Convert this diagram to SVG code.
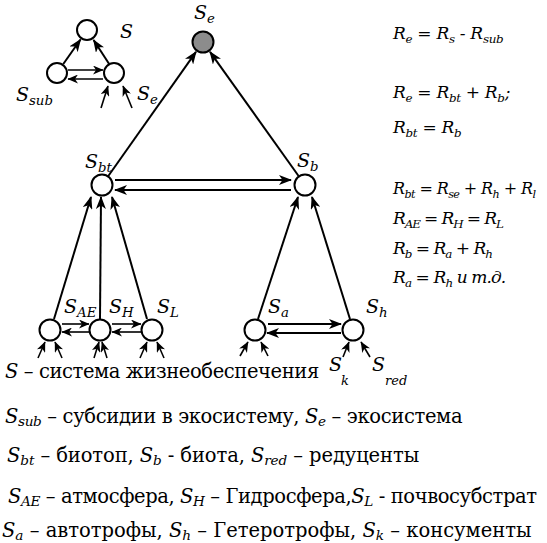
<svg xmlns="http://www.w3.org/2000/svg" width="547" height="543" viewBox="0 0 547 543" font-family="'DejaVu Serif', 'Liberation Serif', serif">
<style>
.n{fill:#fff;stroke:#000;stroke-width:2}
.g{fill:#8c8c8c;stroke:#000;stroke-width:2}
.c line{stroke:#000;stroke-width:2;marker-end:url(#ah)}
.c line.s{stroke-width:1.6;marker-end:url(#as)}
text,tspan{font-family:'DejaVu Serif','Liberation Serif',serif}
text{fill:#000}
.l{font-size:19px;font-style:italic}
.e{font-size:17px;font-style:italic;letter-spacing:-0.3px}
.b{font-size:19.5px}
.i{font-style:italic}
.sub{font-size:70%}
</style>
<defs>
<marker id="ah" markerUnits="userSpaceOnUse" markerWidth="14" markerHeight="10" refX="12" refY="5" orient="auto" viewBox="0 0 14 10">
<path d="M0,0 L13,5 L0,10 L3.5,5 z" fill="#000"/>
</marker>
<marker id="as" markerUnits="userSpaceOnUse" markerWidth="11" markerHeight="9" refX="10" refY="4.5" orient="auto" viewBox="0 0 11 9">
<path d="M0,0 L10.5,4.5 L0,9 L3,4.5 z" fill="#000"/>
</marker>
</defs>
<g id="connectors" class="c">
<line x1="63.3" y1="64" x2="80.5" y2="39.5"/>
<line x1="109" y1="63.8" x2="93.6" y2="40"/>
<line class="s" x1="68" y1="70" x2="103" y2="70"/>
<line class="s" x1="103" y1="79" x2="68" y2="79"/>
<line class="s" x1="101" y1="108" x2="108" y2="86"/>
<line class="s" x1="132" y1="108" x2="123" y2="86"/>
<line x1="108.3" y1="176" x2="196" y2="51.8"/>
<line x1="298.6" y1="176" x2="210" y2="51.8"/>
<line x1="115" y1="180" x2="291" y2="180"/>
<line x1="291" y1="190" x2="115" y2="190"/>
<line x1="54" y1="319" x2="91" y2="197"/>
<line x1="100" y1="319" x2="101" y2="197"/>
<line x1="147" y1="319" x2="112" y2="197"/>
<line x1="258" y1="319" x2="298" y2="197"/>
<line x1="350" y1="319" x2="312" y2="197"/>
<line class="s" x1="62" y1="324" x2="89" y2="324"/>
<line class="s" x1="89" y1="332" x2="62" y2="332"/>
<line class="s" x1="112" y1="324" x2="141" y2="324"/>
<line class="s" x1="141" y1="332" x2="112" y2="332"/>
<line x1="268" y1="324" x2="341" y2="324"/>
<line x1="341" y1="333" x2="267" y2="333"/>
<line class="s" x1="38" y1="358" x2="45" y2="342"/>
<line class="s" x1="62" y1="358" x2="55" y2="342"/>
<line class="s" x1="94" y1="358" x2="99" y2="342"/>
<line class="s" x1="107" y1="358" x2="102" y2="342"/>
<line class="s" x1="140" y1="358" x2="147" y2="342"/>
<line class="s" x1="164" y1="358" x2="157" y2="342"/>
<line class="s" x1="240" y1="356" x2="248" y2="342"/>
<line class="s" x1="268" y1="356" x2="261" y2="342"/>
<line class="s" x1="343" y1="357" x2="349" y2="342"/>
<line class="s" x1="370" y1="357" x2="361" y2="342"/>
</g>
<g id="node-S"><circle class="n" cx="87" cy="30" r="10"/><text class="l" x="120" y="38">S</text></g>
<g id="node-Ssub"><circle class="n" cx="57" cy="73" r="10"/><text class="l" x="16" y="101">S<tspan class="sub" dy="4">sub</tspan></text></g>
<g id="node-Se-small"><circle class="n" cx="114" cy="73" r="10"/><text class="l" x="137" y="100">S<tspan class="sub" dy="4">e</tspan></text></g>
<g id="node-Se"><circle class="g" cx="203" cy="42" r="10.5"/><text class="l" x="194" y="19">S<tspan class="sub" dy="4">e</tspan></text></g>
<g id="node-Sbt"><circle class="n" cx="102" cy="185" r="10.5"/><text class="l" x="85" y="168">S<tspan class="sub" dy="4">bt</tspan></text></g>
<g id="node-Sb"><circle class="n" cx="305" cy="185" r="10.5"/><text class="l" x="297" y="167">S<tspan class="sub" dy="4">b</tspan></text></g>
<g id="node-SAE"><circle class="n" cx="50" cy="330" r="10.5"/><text class="l" x="64" y="313">S<tspan class="sub" dy="4">AE</tspan></text></g>
<g id="node-SH"><circle class="n" cx="100" cy="330" r="10.5"/><text class="l" x="109" y="313">S<tspan class="sub" dy="4">H</tspan></text></g>
<g id="node-SL"><circle class="n" cx="152" cy="330" r="10.5"/><text class="l" x="157" y="313">S<tspan class="sub" dy="4">L</tspan></text></g>
<g id="node-Sa"><circle class="n" cx="255" cy="330" r="10.5"/><text class="l" x="268" y="313">S<tspan class="sub" dy="4">a</tspan></text></g>
<g id="node-Sh"><circle class="n" cx="353" cy="330" r="10.5"/><text class="l" x="366" y="313">S<tspan class="sub" dy="4">h</tspan></text></g>
<g id="label-Sk"><text class="l" x="329" y="371">S</text><text class="l" x="341" y="385" style="font-size:13px">k</text></g>
<g id="label-Sred"><text class="l" x="372" y="371">S</text><text class="l" x="385" y="385" style="font-size:13px">red</text></g>
<g id="equations">
<text class="e" x="393" y="39">R<tspan class="sub" dy="4">e</tspan><tspan dy="-4"> = R</tspan><tspan class="sub" dy="4">s</tspan><tspan dy="-4"> - R</tspan><tspan class="sub" dy="4">sub</tspan></text>
<text class="e" x="393" y="98">R<tspan class="sub" dy="4">e</tspan><tspan dy="-4"> = R</tspan><tspan class="sub" dy="4">bt</tspan><tspan dy="-4"> + R</tspan><tspan class="sub" dy="4">b</tspan><tspan dy="-4">;</tspan></text>
<text class="e" x="393" y="133">R<tspan class="sub" dy="4">bt</tspan><tspan dy="-4"> = R</tspan><tspan class="sub" dy="4">b</tspan></text>
<text class="e" x="393" y="194" style="font-size:16px;letter-spacing:-0.6px">R<tspan class="sub" dy="4">bt</tspan><tspan dy="-4"> = R</tspan><tspan class="sub" dy="4">se</tspan><tspan dy="-4"> + R</tspan><tspan class="sub" dy="4">h</tspan><tspan dy="-4"> + R</tspan><tspan class="sub" dy="4">l</tspan></text>
<text class="e" x="393" y="224" style="letter-spacing:-1.1px">R<tspan class="sub" dy="4">AE</tspan><tspan dy="-4"> = R</tspan><tspan class="sub" dy="4">H</tspan><tspan dy="-4"> = R</tspan><tspan class="sub" dy="4">L</tspan></text>
<text class="e" x="393" y="254" style="letter-spacing:-1px">R<tspan class="sub" dy="4">b</tspan><tspan dy="-4"> = R</tspan><tspan class="sub" dy="4">a</tspan><tspan dy="-4"> + R</tspan><tspan class="sub" dy="4">h</tspan></text>
<text class="e" x="393" y="283" style="letter-spacing:-0.9px">R<tspan class="sub" dy="4">a</tspan><tspan dy="-4"> = R</tspan><tspan class="sub" dy="4">h</tspan><tspan dy="-4"> и т.д.</tspan></text>
</g>
<g id="legend">
<text class="b" x="5" y="378" style="letter-spacing:-0.4px"><tspan class="i">S</tspan> – система жизнеобеспечения</text>
<text class="b" x="5" y="423" style="letter-spacing:-0.35px"><tspan class="i">S</tspan><tspan class="i sub" dy="3">sub</tspan><tspan dy="-3"> – субсидии в экосистему,  </tspan><tspan class="i">S</tspan><tspan class="i sub" dy="3">e</tspan><tspan dy="-3"> – экосистема</tspan></text>
<text class="b" x="7" y="462" style="letter-spacing:-0.1px"><tspan class="i">S</tspan><tspan class="i sub" dy="3">bt</tspan><tspan dy="-3"> – биотоп, </tspan><tspan class="i">S</tspan><tspan class="i sub" dy="3">b</tspan><tspan dy="-3"> - биота, </tspan><tspan class="i">S</tspan><tspan class="i sub" dy="3">red</tspan><tspan dy="-3"> – редуценты</tspan></text>
<text class="b" x="8" y="503" style="letter-spacing:-0.4px"><tspan class="i">S</tspan><tspan class="i sub" dy="3">AE</tspan><tspan dy="-3"> – атмосфера, </tspan><tspan class="i">S</tspan><tspan class="i sub" dy="3">H</tspan><tspan dy="-3"> – Гидросфера,</tspan><tspan class="i">S</tspan><tspan class="i sub" dy="3">L</tspan><tspan dy="-3"> - почвосубстрат</tspan></text>
<text class="b" x="2" y="537"><tspan class="i">S</tspan><tspan class="i sub" dy="3">a</tspan><tspan dy="-3"> – автотрофы, </tspan><tspan class="i">S</tspan><tspan class="i sub" dy="3">h</tspan><tspan dy="-3"> – Гетеротрофы,  </tspan><tspan class="i">S</tspan><tspan class="i sub" dy="3">k</tspan><tspan dy="-3"> – консументы</tspan></text>
</g>
</svg>
